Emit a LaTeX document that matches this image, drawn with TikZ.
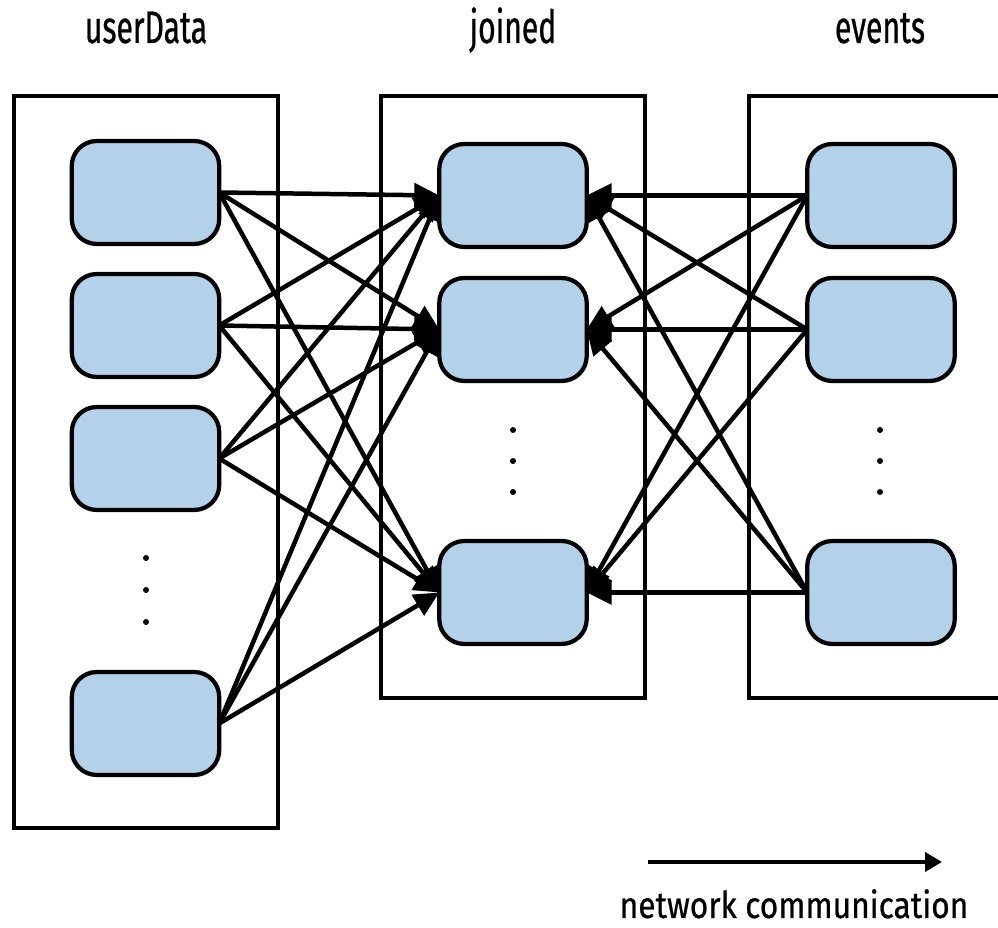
\documentclass[tikz,border=0pt]{standalone}
\usepackage{fontspec}
\setmainfont{Fira Sans}
\newfontfamily\titlefont[FakeStretch=0.66,FakeBold=0.6]{Fira Sans}
\newfontfamily\legendfont[FakeStretch=0.86,FakeBold=0.6]{Fira Sans}
\usetikzlibrary{arrows.meta}
\definecolor{nodeblue}{RGB}{179,210,234}
\begin{document}
\begin{tikzpicture}[x=0.02cm,y=-0.02cm,
  box/.style={draw, line width=0.075cm},
  cell/.style={draw, line width=0.085cm, fill=nodeblue, rounded corners=0.5cm, minimum width=2.95cm, minimum height=2.06cm, inner sep=0pt, outer sep=0pt},
  link/.style={line width=0.09cm, -{Triangle[length=0.5cm,width=0.47cm]}},
  legendarrow/.style={line width=0.08cm, -{Triangle[length=0.34cm,width=0.38cm]}},
  title/.style={font=\titlefont\fontsize{26}{30}\selectfont, anchor=base, inner sep=0pt},
  legend/.style={font=\legendfont\fontsize{21}{25}\selectfont, anchor=base, inner sep=0pt},
  dotmark/.style={circle, fill, inner sep=0pt, minimum size=0.12cm}]
\useasboundingbox (0,0) rectangle (998,928);
% containers
\draw[box] (14,96) rectangle (278,828);
\draw[box] (381,96) rectangle (645,698);
\draw[box] (749,96) rectangle (1010,698);
% titles
\node[title] (tU) at (146,43) {userData};
\node[title] (tJ) at (513,43) {joined};
\node[title] (tE) at (880,43) {events};
% left cells
\node[cell] (l1) at (145.5,192.5) {};
\node[cell] (l2) at (145.5,325.5) {};
\node[cell] (l3) at (145.5,458.5) {};
\node[cell] (l4) at (145.5,723.5) {};
% middle cells
\node[cell] (m1) at (513,195.5) {};
\node[cell] (m2) at (513,329.5) {};
\node[cell] (m3) at (513,592.5) {};
% right cells
\node[cell] (r1) at (881,195.5) {};
\node[cell] (r2) at (881,329.5) {};
\node[cell] (r3) at (881,592.5) {};
% dots
\foreach \y [count=\i] in {558,590,622} \node[dotmark] (dl\i) at (146,\y) {};
\foreach \y [count=\i] in {430,461,492} \node[dotmark] (dm\i) at (513,\y) {};
\foreach \y [count=\i] in {430,461,492} \node[dotmark] (dr\i) at (880,\y) {};
% links
\foreach \a in {l1,l2,l3,l4}
  \foreach \b in {m1,m2,m3}
    \draw[link] (\a.east) -- (\b.west);
\foreach \a in {r1,r2,r3}
  \foreach \b in {m1,m2,m3}
    \draw[link] (\a.west) -- (\b.east);
% legend
\coordinate (a0) at (648,862);
\coordinate (a1) at (942,862);
\draw[legendarrow] (a0) -- (a1);
\node[legend] (leg) at (794,918) {network communication};
\end{tikzpicture}
\end{document}
